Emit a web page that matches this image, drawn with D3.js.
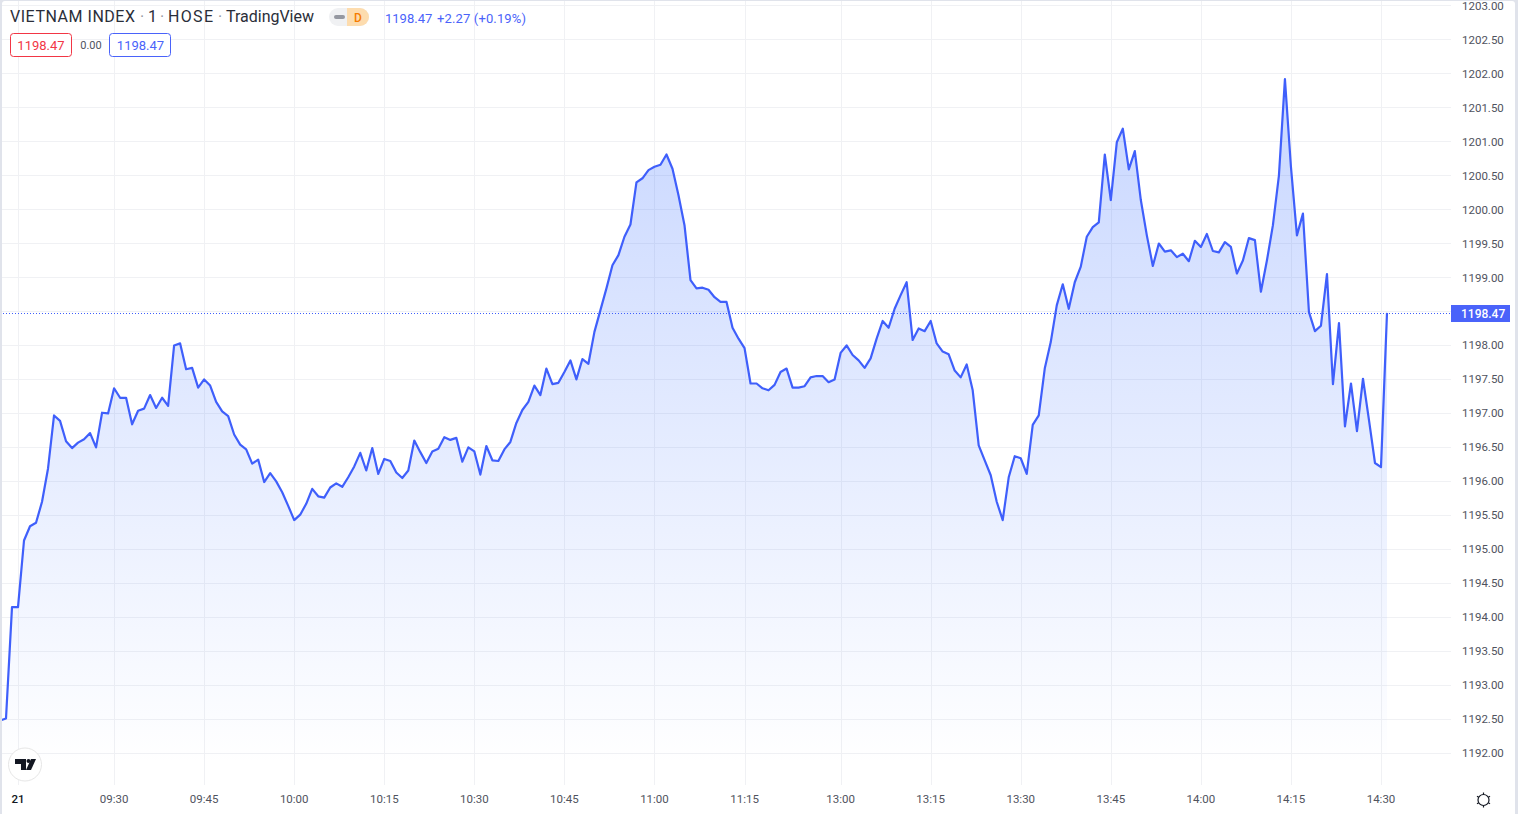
<!DOCTYPE html>
<html>
<head>
<meta charset="utf-8">
<script src="https://cdn.jsdelivr.net/npm/d3@7"></script>
<style>
  html, body { margin: 0; padding: 0; background: #e0e3eb; overflow: hidden; }
  svg { display: block; font-family: Roboto, Arial, sans-serif; }
  .axis path, .axis line { display: none; }
  .axis text { font-family: Roboto, Arial, sans-serif; font-size: 11.5px; fill: #50535e; }
</style>
</head>
<body>
<div id="chart"></div>
<script>
// one close per bar, bar index is the x value (the lunch break is not on the axis)
const closes = [
  1192.47,1192.50,1194.14,1194.14,1195.12,1195.33,1195.38,1195.69,1196.18,1196.96,
  1196.88,1196.58,1196.48,1196.56,1196.61,1196.70,1196.49,1197.00,1196.99,1197.36,
  1197.22,1197.22,1196.83,1197.03,1197.06,1197.26,1197.07,1197.22,1197.10,1197.99,
  1198.02,1197.64,1197.66,1197.37,1197.49,1197.40,1197.16,1197.02,1196.95,1196.68,
  1196.53,1196.46,1196.25,1196.31,1195.98,1196.11,1195.99,1195.83,1195.63,1195.42,
  1195.50,1195.66,1195.88,1195.77,1195.75,1195.90,1195.96,1195.91,1196.05,1196.21,
  1196.41,1196.15,1196.48,1196.10,1196.32,1196.29,1196.12,1196.04,1196.15,1196.59,
  1196.42,1196.26,1196.43,1196.47,1196.64,1196.60,1196.63,1196.28,1196.49,1196.43,
  1196.09,1196.51,1196.30,1196.29,1196.46,1196.57,1196.85,1197.04,1197.16,1197.40,
  1197.26,1197.65,1197.42,1197.44,1197.60,1197.77,1197.49,1197.79,1197.72,1198.19,
  1198.51,1198.83,1199.17,1199.32,1199.59,1199.77,1200.39,1200.45,1200.57,1200.62,
  1200.65,1200.80,1200.59,1200.20,1199.76,1198.95,1198.83,1198.84,1198.81,1198.70,
  1198.63,1198.63,1198.25,1198.09,1197.95,1197.43,1197.43,1197.36,1197.33,1197.41,
  1197.60,1197.65,1197.37,1197.37,1197.39,1197.52,1197.54,1197.54,1197.45,1197.49,
  1197.88,1197.99,1197.85,1197.77,1197.66,1197.80,1198.09,1198.35,1198.25,1198.53,
  1198.73,1198.92,1198.07,1198.24,1198.20,1198.35,1198.02,1197.90,1197.86,1197.62,
  1197.52,1197.71,1197.33,1196.52,1196.30,1196.08,1195.69,1195.42,1196.05,1196.36,
  1196.33,1196.10,1196.82,1196.96,1197.65,1198.04,1198.58,1198.89,1198.53,1198.92,
  1199.15,1199.59,1199.73,1199.80,1200.80,1200.13,1200.98,1201.18,1200.58,1200.85,
  1200.13,1199.61,1199.16,1199.49,1199.37,1199.39,1199.29,1199.34,1199.23,1199.53,
  1199.44,1199.63,1199.38,1199.36,1199.51,1199.44,1199.05,1199.24,1199.57,1199.54,
  1198.78,1199.24,1199.76,1200.49,1201.91,1200.62,1199.61,1199.93,1198.48,1198.20,
  1198.28,1199.04,1197.42,1198.32,1196.80,1197.43,1196.73,1197.50,1196.89,1196.26,
  1196.20,1198.47
];

const timeTickBars = [3, 19, 34, 49, 64, 79, 94, 109, 124, 140, 155, 170, 185, 200, 215, 230];
const timeTickLabels = ["21", "09:30", "09:45", "10:00", "10:15", "10:30", "10:45", "11:00",
  "11:15", "13:00", "13:15", "13:30", "13:45", "14:00", "14:15", "14:30"];
const priceTicks = ["1192.00","1192.50","1193.00","1193.50","1194.00","1194.50","1195.00","1195.50",
  "1196.00","1196.50","1197.00","1197.50","1198.00","1198.50","1199.00","1199.50","1200.00",
  "1200.50","1201.00","1201.50","1202.00","1202.50","1203.00"];
const lastPrice = 1198.47;
const lineColor = "#3f5ffb";
const labelBlue = "#4a63fa";

const width = 1518, height = 814;
const plotRight = 1451, plotBottom = 785;

let svg = d3.select("#chart").append("svg")
  .attr("width", width)
  .attr("height", height);

// the page is a white card on a grey backing
svg.append("rect")
  .attr("x", 2).attr("y", 1)
  .attr("width", 1513).attr("height", 820)
  .attr("rx", 3)
  .attr("fill", "#fff");

let x = d3.scaleLinear().domain([0, 231]).range([0, 1387]);
let y = d3.scaleLinear().domain([1192, 1203]).range([752.5, 5]);

let defs = svg.append("defs");
defs.append("clipPath").attr("id", "plot")
  .append("rect").attr("x", 2).attr("y", 1).attr("width", plotRight - 2).attr("height", plotBottom - 1);

let grad = defs.append("linearGradient")
  .attr("id", "areaFill")
  .attr("gradientUnits", "userSpaceOnUse")
  .attr("x1", 0).attr("x2", 0)
  .attr("y1", y(d3.max(closes))).attr("y2", plotBottom - 20);
grad.append("stop").attr("offset", "0%").attr("stop-color", "#2962ff").attr("stop-opacity", 0.26);
grad.append("stop").attr("offset", "100%").attr("stop-color", "#2962ff").attr("stop-opacity", 0);

//--------------------------------------------------
// Grid
//--------------------------------------------------
let plot = svg.append("g").attr("clip-path", "url(#plot)");

plot.selectAll(".hgrid")
  .data(priceTicks)
  .enter()
  .append("line")
  .attr("x1", 0).attr("x2", plotRight)
  .attr("y1", d => Math.round(y(+d)) + 0.5)
  .attr("y2", d => Math.round(y(+d)) + 0.5)
  .attr("stroke", "#f0f1f4");

plot.selectAll(".vgrid")
  .data(timeTickBars)
  .enter()
  .append("line")
  .attr("x1", d => Math.round(x(d)) + 0.5)
  .attr("x2", d => Math.round(x(d)) + 0.5)
  .attr("y1", 0).attr("y2", plotBottom)
  .attr("stroke", "#f0f1f4");

//--------------------------------------------------
// Area and line
//--------------------------------------------------
let area = d3.area()
  .x((d, i) => x(i))
  .y0(plotBottom - 20)
  .y1(d => y(d));
let line = d3.line()
  .x((d, i) => x(i))
  .y(d => y(d));

plot.append("path")
  .datum(closes)
  .attr("d", area)
  .attr("fill", "url(#areaFill)");

plot.append("line")
  .attr("x1", 0).attr("x2", plotRight)
  .attr("y1", Math.round(y(lastPrice)) + 0.5).attr("y2", Math.round(y(lastPrice)) + 0.5)
  .attr("stroke", lineColor)
  .attr("stroke-dasharray", "1 2");

plot.append("path")
  .datum(closes)
  .attr("d", line)
  .attr("fill", "none")
  .attr("stroke", lineColor)
  .attr("stroke-width", 2.2)
  .attr("stroke-linejoin", "round");

//--------------------------------------------------
// Axes
//--------------------------------------------------
let timeAxis = d3.axisBottom(x)
  .tickValues(timeTickBars)
  .tickFormat((d, i) => timeTickLabels[i])
  .tickSize(0)
  .tickPadding(10);
svg.append("g").attr("class", "axis")
  .attr("transform", "translate(-0.5," + plotBottom + ")")
  .call(timeAxis)
  .selectAll("text")
  .filter((d, i) => i === 0)
  .style("font-weight", "500")
  .style("fill", "#131722");

let priceAxis = d3.axisRight(y)
  .tickValues(priceTicks.map(Number))
  .tickFormat(d3.format(".2f"))
  .tickSize(0)
  .tickPadding(11);
svg.append("g").attr("class", "axis")
  .attr("transform", "translate(" + plotRight + ",0.5)")
  .call(priceAxis);

// last price tag
svg.append("rect")
  .attr("x", plotRight).attr("y", 305)
  .attr("width", 59).attr("height", 17)
  .attr("fill", labelBlue);
svg.append("text")
  .attr("x", 1461).attr("y", y(lastPrice) + 5)
  .attr("font-size", 12).attr("font-weight", 500)
  .attr("fill", "#fff")
  .text(d3.format(".2f")(lastPrice));

//--------------------------------------------------
// Header legend
//--------------------------------------------------
let head = svg.append("g");
let titleBits = [
  {text: "VIETNAM INDEX", at: 10, len: 125, color: "#2a2e39"},
  {text: "·", at: 140, len: 4, color: "#9598a1"},
  {text: "1", at: 148, len: 8, color: "#2a2e39"},
  {text: "·", at: 160, len: 4, color: "#9598a1"},
  {text: "HOSE", at: 168, len: 45, color: "#2a2e39"},
  {text: "·", at: 218, len: 4, color: "#9598a1"},
  {text: "TradingView", at: 226, len: 88, color: "#2a2e39"}
];
head.selectAll(".title")
  .data(titleBits)
  .enter()
  .append("text")
  .attr("x", d => d.at).attr("y", 22)
  .attr("font-size", 16)
  .attr("fill", d => d.color)
  .attr("textLength", d => d.len)
  .text(d => d.text);

head.append("rect").attr("x", 329).attr("y", 8).attr("width", 40).attr("height", 18).attr("rx", 9).attr("fill", "#f0f1f3");
head.append("path").attr("d", "M347 8h13a9 9 0 0 1 0 18h-13z").attr("fill", "#fddcae");
head.append("rect").attr("x", 334).attr("y", 15).attr("width", 11).attr("height", 4).attr("rx", 2).attr("fill", "#9598a1");
head.append("text").attr("x", 358).attr("y", 22).attr("text-anchor", "middle")
  .attr("font-size", 12).attr("font-weight", 500).attr("fill", "#f57c00").text("D");

head.append("text")
  .attr("x", 385).attr("y", 23)
  .attr("font-size", 13).attr("fill", labelBlue)
  .text("1198.47");
head.append("text")
  .attr("x", 437).attr("y", 23)
  .attr("font-size", 13).attr("fill", labelBlue)
  .attr("textLength", 89)
  .text("+2.27 (+0.19%)");

head.append("rect").attr("x", 10.5).attr("y", 33.5).attr("width", 61).attr("height", 23).attr("rx", 3)
  .attr("fill", "#fff").attr("stroke", "#f23645");
head.append("text").attr("x", 41).attr("y", 50).attr("text-anchor", "middle")
  .attr("font-size", 13).attr("fill", "#f23645").text("1198.47");
head.append("text").attr("x", 91).attr("y", 49).attr("text-anchor", "middle")
  .attr("font-size", 11).attr("fill", "#50535e").text("0.00");
head.append("rect").attr("x", 109.5).attr("y", 33.5).attr("width", 61).attr("height", 23).attr("rx", 3)
  .attr("fill", "#fff").attr("stroke", labelBlue);
head.append("text").attr("x", 140.5).attr("y", 50).attr("text-anchor", "middle")
  .attr("font-size", 13).attr("fill", labelBlue).text("1198.47");

//--------------------------------------------------
// Logo and settings gear
//--------------------------------------------------
svg.append("circle").attr("cx", 25).attr("cy", 764.5).attr("r", 16.5)
  .attr("fill", "#fff").attr("stroke", "#e6e6e6");
let logo = svg.append("g").attr("fill", "#131722");
logo.append("path").attr("d", "M15 759h11v11h-5v-6h-6z");
logo.append("circle").attr("cx", 28.5).attr("cy", 761).attr("r", 2);
logo.append("path").attr("d", "M31 759h5l-5 11h-5z");

let gear = svg.append("g").attr("transform", "translate(1483.5,800)");
gear.append("circle").attr("r", 5.5).attr("fill", "none").attr("stroke", "#131722").attr("stroke-width", 1.2);
gear.selectAll("line")
  .data([0, 60, 120, 180, 240, 300])
  .enter()
  .append("line")
  .attr("y1", -5.5).attr("y2", -7.5)
  .attr("transform", d => "rotate(" + d + ")")
  .attr("stroke", "#131722")
  .attr("stroke-width", 1.2);
</script>
</body>
</html>
